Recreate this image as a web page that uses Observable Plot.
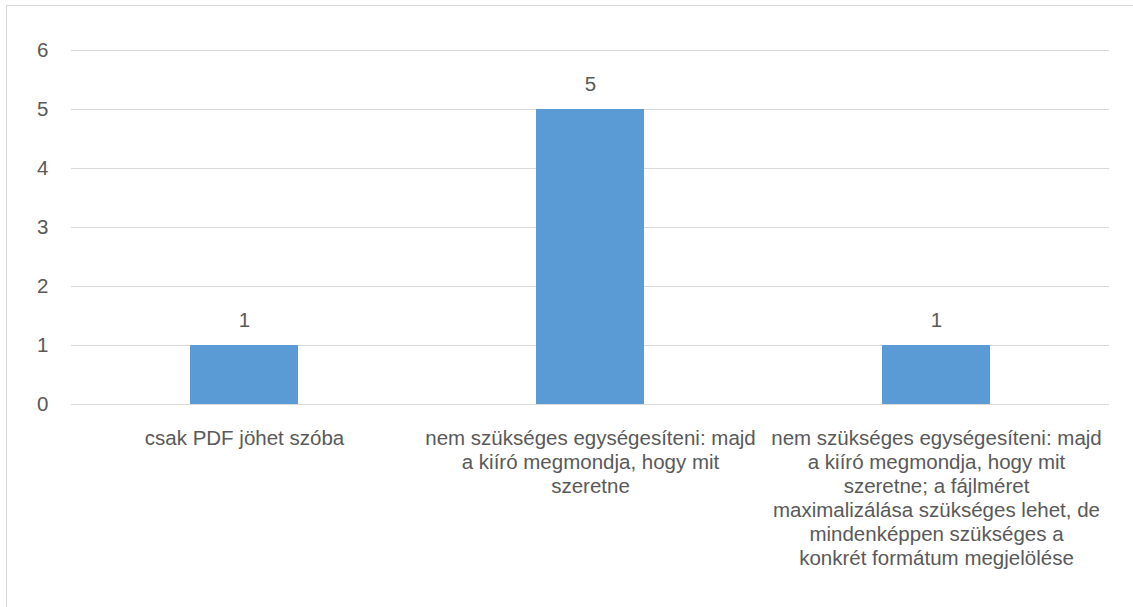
<!DOCTYPE html>
<html>
<head>
<meta charset="utf-8">
<script src="https://cdn.jsdelivr.net/npm/d3@7"></script>
<script src="https://cdn.jsdelivr.net/npm/@observablehq/plot@0.6"></script>
<style>
  html, body { margin: 0; padding: 0; background: #fff; }
  #wrap { position: relative; width: 1133px; height: 607px; overflow: hidden; }
  #frame { position: absolute; left: 6px; top: 5px; width: 1140px; height: 620px; border: 1px solid #d9d9d9; box-sizing: border-box; border-width: 1px 0 0 1px; }
  #chart { position: absolute; left: 0; top: 0; }
</style>
</head>
<body>
<div id="wrap"><div id="frame"></div><div id="chart"></div></div>
<script>
const categories = [
  "csak PDF jöhet szóba",
  "nem szükséges egységesíteni: majd a kiíró megmondja, hogy mit szeretne",
  "nem szükséges egységesíteni: majd a kiíró megmondja, hogy mit szeretne; a fájlméret maximalizálása szükséges lehet, de mindenképpen szükséges a konkrét formátum megjelölése"
];
const values = [1, 5, 1];
const categoryLabels = [
  "csak PDF jöhet szóba",
  "nem szükséges egységesíteni: majd\na kiíró megmondja, hogy mit\nszeretne",
  "nem szükséges egységesíteni: majd\na kiíró megmondja, hogy mit\nszeretne; a fájlméret\nmaximalizálása szükséges lehet, de\nmindenképpen szükséges a\nkonkrét formátum megjelölése"
];
const yTicks = [0, 1, 2, 3, 4, 5, 6];

const data = categories.map((c, i) => ({category: c, value: values[i], label: categoryLabels[i]}));
const font = "'Liberation Sans', Arial, sans-serif";
const textColor = "#595959";
const fs = 20.5;

const chart = Plot.plot({
  width: 1133,
  height: 607,
  marginLeft: 71,
  marginRight: 24,
  marginTop: 50,
  marginBottom: 203,
  style: {fontFamily: font, fontSize: fs + "px", color: textColor, background: "transparent"},
  x: {domain: categories, padding: 0, axis: null},
  y: {domain: [0, 6], axis: null},
  marks: [
    Plot.gridY(yTicks, {stroke: "#d9d9d9", strokeOpacity: 1, strokeWidth: 1}),
    Plot.barY(data, {x: "category", y: "value", fill: "#5b9bd5", insetLeft: 119, insetRight: 119}),
    Plot.axisY(yTicks, {tickSize: 0, tickPadding: 23, fill: textColor, fontSize: fs, label: null, tickFormat: d => String(d)}),
    Plot.text(data, {x: "category", y: "value", text: d => String(d.value), dy: -25, fill: textColor, fontSize: fs}),
    Plot.text(data, {x: "category", y: () => 0, text: "label", lineAnchor: "top", dy: 23, fill: textColor, fontSize: fs, lineHeight: 24 / fs})
  ]
});
document.getElementById("chart").appendChild(chart);
</script>
</body>
</html>
